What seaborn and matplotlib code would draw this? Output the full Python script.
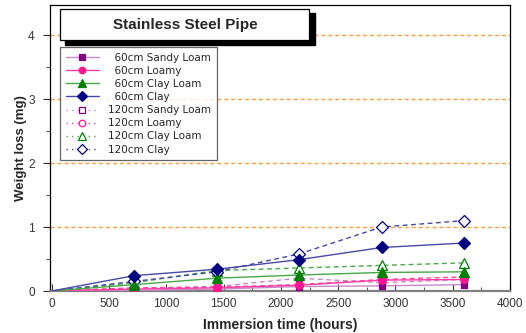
import matplotlib
matplotlib.use("Agg")
import matplotlib.pyplot as plt
from matplotlib.lines import Line2D
from matplotlib.patches import Rectangle
from matplotlib.ticker import MultipleLocator
import pandas as pd
import seaborn as sns

# Immersion times (hours) and weight loss (mg) per burial depth / soil type
hours = [0, 720, 1440, 2160, 2880, 3600]

sandy_loam_60 = [0, 0.01, 0.03, 0.07, 0.08, 0.10]
loamy_60 = [0, 0.03, 0.05, 0.09, 0.17, 0.18]
clay_loam_60 = [0, 0.10, 0.20, 0.25, 0.29, 0.30]
clay_60 = [0, 0.24, 0.34, 0.49, 0.68, 0.75]

sandy_loam_120 = [0, 0.04, 0.07, 0.20, 0.13, 0.18]
loamy_120 = [0, 0.05, 0.06, 0.10, 0.18, 0.22]
clay_loam_120 = [0, 0.13, 0.32, 0.36, 0.40, 0.44]
clay_120 = [0, 0.15, 0.30, 0.58, 1.00, 1.10]

labels = ["  60cm Sandy Loam", "  60cm Loamy", "  60cm Clay Loam", "  60cm Clay",
          "120cm Sandy Loam", "120cm Loamy", "120cm Clay Loam", "120cm Clay"]
series = [sandy_loam_60, loamy_60, clay_loam_60, clay_60,
          sandy_loam_120, loamy_120, clay_loam_120, clay_120]

sns.set_style("ticks")
plt.rcParams["font.family"] = ["Liberation Sans", "DejaVu Sans"]

W, H = 526, 333
fig = plt.figure(figsize=(W / 100, H / 100), dpi=100)
ax = fig.add_axes([50 / W, 1 - 291 / H, (510 - 50) / W, (291 - 5) / H])

# colour per soil type: (marker colour, line colour)
soil_colors = [("#800080", "#c888cc"), ("#ff1493", "#ff3fa0"),
               ("#008000", "#48a848"), ("#000080", "#4848a8")]
soil_markers = ["s", "o", "^", "D"]
soil_msize = [5.0, 5.5, 6.5, 6.0]

handles = []
for i, (lab, vals) in enumerate(zip(labels, series)):
    soil = i % 4
    deep = i >= 4
    mcol, lcol = soil_colors[soil]
    df = pd.DataFrame({"hours": hours, "loss": vals})
    ls = (0, (3.5, 2.5)) if deep else "-"
    sns.lineplot(data=df, x="hours", y="loss", ax=ax, color=lcol,
                 linestyle=ls, linewidth=1.0, marker=soil_markers[soil],
                 markersize=soil_msize[soil], markevery=slice(1, None),
                 markerfacecolor="white" if deep else mcol,
                 markeredgecolor=mcol, markeredgewidth=0.9,
                 zorder=3 + (0 if deep else 1), legend=False)
    handles.append(Line2D([], [], color=lcol,
                          linestyle=(0, (1, 3)) if deep else "-",
                          linewidth=1.0, marker=soil_markers[soil],
                          markersize=soil_msize[soil] - 0.8,
                          markerfacecolor="white" if deep else mcol,
                          markeredgecolor=mcol, markeredgewidth=0.9))

ax.set_xlim(-15, 4000)
ax.set_ylim(0, 4.47)
ax.xaxis.set_major_locator(MultipleLocator(500))
ax.xaxis.set_minor_locator(MultipleLocator(250))
ax.yaxis.set_major_locator(MultipleLocator(1))
ax.yaxis.set_minor_locator(MultipleLocator(0.5))
ax.tick_params(axis="x", which="both", direction="in", colors="#333333",
               labelsize=8.5, pad=5)
ax.tick_params(axis="x", which="major", length=5)
ax.tick_params(axis="x", which="minor", length=3)
ax.tick_params(axis="y", which="both", direction="out", colors="#333333",
               labelsize=8.5, pad=6)
ax.tick_params(axis="y", which="major", length=5)
ax.tick_params(axis="y", which="minor", length=3)

for yv in [1, 2, 3, 4]:
    ax.axhline(yv, color="#ffa040", linestyle=(0, (3, 2)), linewidth=1.0,
               zorder=1)

for side in ["top", "right", "left"]:
    ax.spines[side].set_color("black")
    ax.spines[side].set_linewidth(0.9)
ax.spines["bottom"].set_color("#808080")
ax.spines["bottom"].set_linewidth(1.6)

ax.set_xlabel("Immersion time (hours)", fontsize=10, fontweight="bold", labelpad=6)
ax.set_ylabel("Weight loss (mg)", fontsize=9.5, fontweight="bold", labelpad=1)

# title box with drop shadow
fig.patches.append(Rectangle((65 / W, 1 - 45 / H), (315 - 65) / W, (45 - 13) / H,
                             transform=fig.transFigure, facecolor="black",
                             edgecolor="black", zorder=5))
fig.patches.append(Rectangle((60 / W, 1 - 40 / H), (309 - 60) / W, (40 - 9) / H,
                             transform=fig.transFigure, facecolor="white",
                             edgecolor="black", linewidth=0.9, zorder=6))
fig.text(185 / W, 1 - 24.5 / H, "Stainless Steel Pipe", ha="center", va="center",
         fontsize=11, fontweight="bold", zorder=7)

leg = ax.legend(handles, labels, loc="upper left",
                bbox_to_anchor=(60 / W, 1 - 47 / H), bbox_transform=fig.transFigure,
                frameon=True, fancybox=False, handlelength=3.2,
                handletextpad=0.9, labelspacing=0.3, borderpad=0.55,
                borderaxespad=0, numpoints=1, prop={"family": "DejaVu Sans", "size": 7.5})
leg.get_frame().set_edgecolor("#404040")
leg.get_frame().set_linewidth(0.9)
leg.set_zorder(6)

fig.savefig("out.png", dpi=100)
